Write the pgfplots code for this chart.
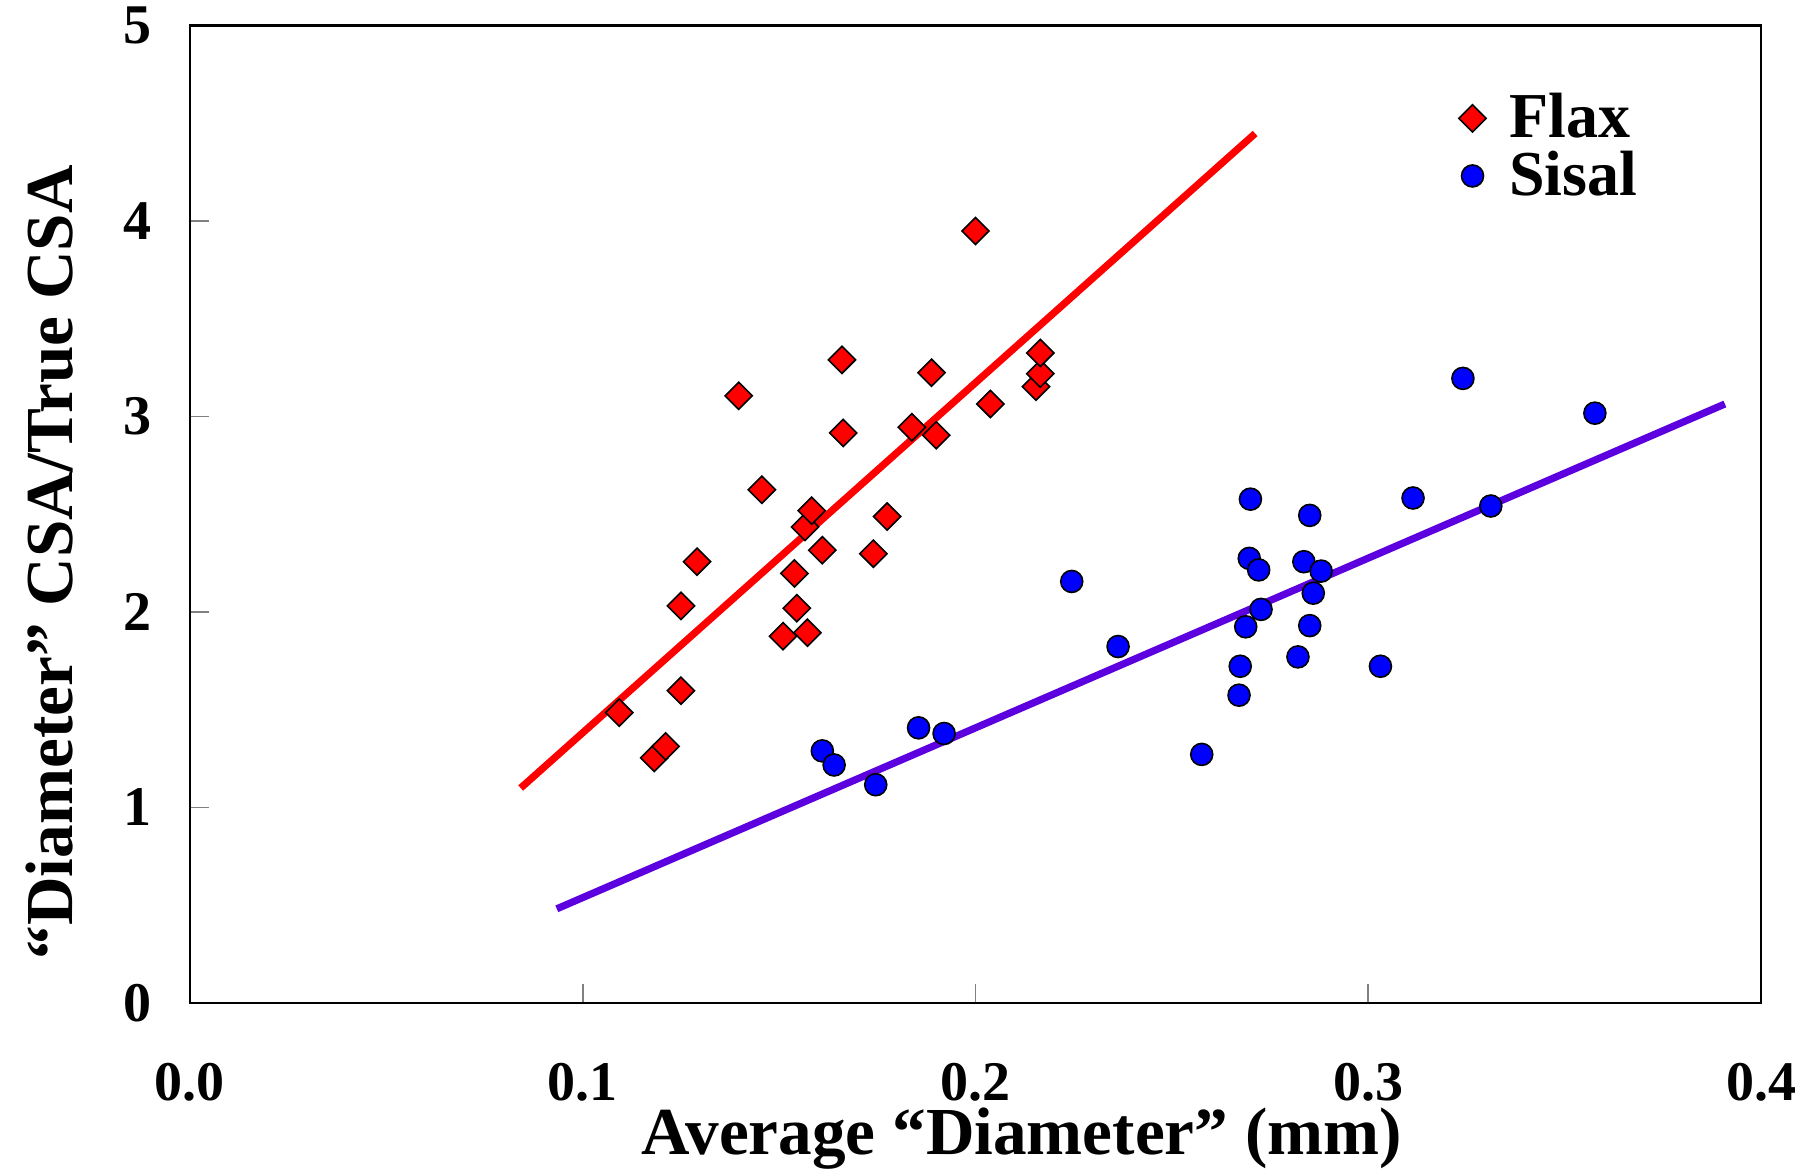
\documentclass[border=0pt]{standalone}
\usepackage{fontspec}
\setmainfont{Liberation Serif}
\usepackage{pgfplots}
\pgfplotsset{compat=1.18}
\definecolor{sisalline}{rgb}{0.36,0.0,0.88}

\begin{document}
\begin{tikzpicture}
\useasboundingbox (-47.5pt,-41.3pt) rectangle (407pt,250.7pt);
\begin{axis}[
  at={(0,0)}, anchor=south west,
  scale only axis,
  width=392.75pt, height=244.3pt,
  xmin=0, xmax=0.4, ymin=0, ymax=5,
  xtick={0,0.1,0.2,0.3,0.4},
  ytick={0,1,2,3,4,5},
  xtick pos=left, ytick pos=left,
  tick align=inside,
  major tick length=4.75pt,
  tick style={gray, line width=0.4pt},
  axis line style={black, line width=0.6pt},
  /pgf/number format/assume math mode=true,
  xticklabel style={font=\fontsize{14}{16}\selectfont\bfseries, yshift=-11.5pt,
    /pgf/number format/fixed, /pgf/number format/precision=1,
    /pgf/number format/fixed zerofill},
  yticklabel style={font=\fontsize{14}{16}\selectfont\bfseries, xshift=-6pt},
  xlabel={Average “Diameter” (mm)},
  ylabel={“Diameter” CSA/True CSA},
  label style={font=\fontsize{16.8}{19}\selectfont\bfseries},
  xlabel style={at={(axis description cs:0.5,0)}, anchor=center, yshift=-34pt, xshift=11.6pt},
  ylabel style={at={(axis description cs:0,0.5)}, anchor=center, rotate=0, xshift=-12pt, yshift=35pt},
  legend style={at={(0.8146,0.935)}, anchor=north west, draw=none, fill=none,
    font=\fontsize{16}{18}\selectfont\bfseries, inner sep=0pt, row sep=-2.2pt,
    xshift=-2.9pt, yshift=1.2pt},
  legend cell align=left,
]
% Flax measurements
\addplot[only marks, mark=square*, mark size=2.4pt,
  mark options={rotate=45, fill=red, draw=black, line width=0.4pt}]
  coordinates {
  (0.1093,1.485) (0.1182,1.253) (0.1211,1.312) (0.1250,1.597) (0.1250,2.031)
  (0.1291,2.257) (0.1397,3.106) (0.1456,2.625) (0.1510,1.876) (0.1539,2.197)
  (0.1545,2.019) (0.1572,1.894) (0.1566,2.435) (0.1583,2.518) (0.1610,2.316)
  (0.1660,3.290) (0.1663,2.916) (0.1740,2.298) (0.1775,2.488) (0.1838,2.945)
  (0.1888,3.224) (0.1900,2.904) (0.2000,3.949) (0.2038,3.064) (0.2154,3.153)
  (0.2165,3.219) (0.2165,3.325)
  };
\addlegendentry{\hspace{3.8pt}Flax}
% Sisal measurements
\addplot[only marks, mark=*, mark size=2.75pt,
  mark options={fill=blue, draw=black, line width=0.4pt}]
  coordinates {
  (0.1610,1.289) (0.1640,1.217) (0.1746,1.116) (0.1855,1.407) (0.1920,1.378)
  (0.2245,2.156) (0.2363,1.823) (0.2576,1.271) (0.2671,1.574) (0.2674,1.722)
  (0.2688,1.924) (0.2697,2.274) (0.2700,2.577) (0.2721,2.215) (0.2727,2.013)
  (0.2821,1.770) (0.2836,2.257) (0.2851,1.930) (0.2851,2.494) (0.2860,2.096)
  (0.2880,2.209) (0.3031,1.722) (0.3114,2.583) (0.3241,3.195) (0.3312,2.542)
  (0.3577,3.017)
  };
\addlegendentry{\hspace{3.8pt}Sisal}
% Linear fits
\addplot[red, line width=1.8pt, forget plot] coordinates {(0.0842,1.099) (0.2712,4.448)};
\addplot[sisalline, line width=1.8pt, forget plot] coordinates {(0.0934,0.481) (0.3908,3.064)};
\end{axis}
\end{tikzpicture}
\end{document}
